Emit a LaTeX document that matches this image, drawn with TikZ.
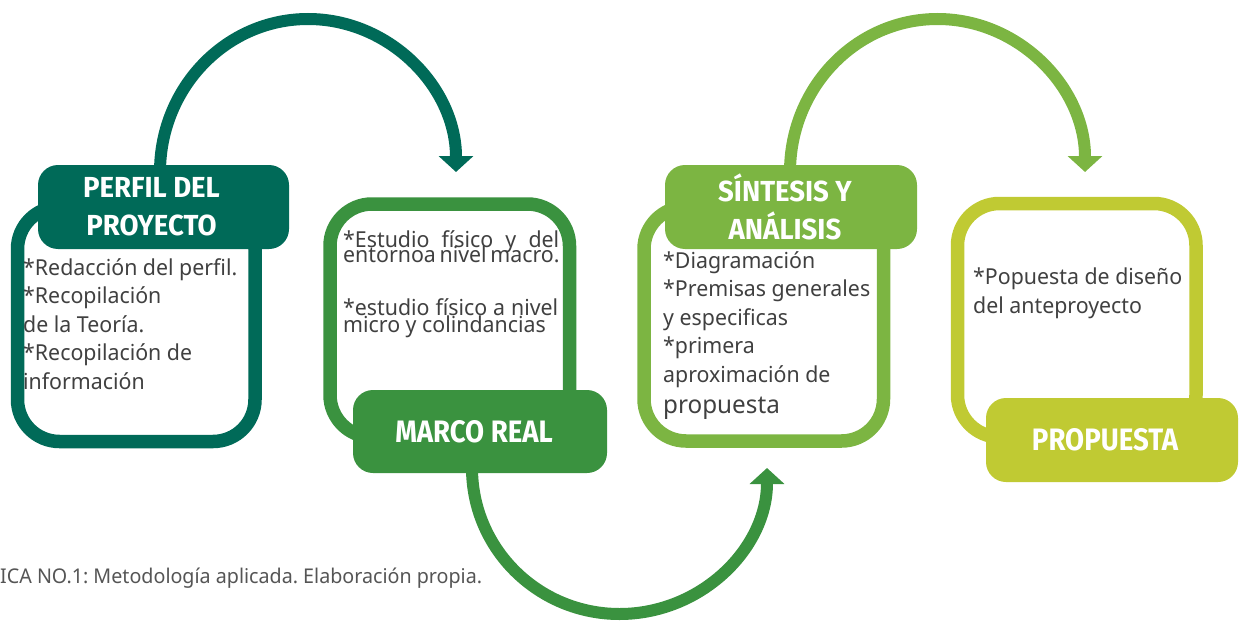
\documentclass[tikz,border=0pt]{standalone}
\usepackage{fontspec}
\setmainfont{Noto Sans}
\newfontfamily\bodyfont{Noto Sans}[FakeStretch=0.97]
\newfontfamily\headfont{Fira Sans}[FakeStretch=0.95]
\newfontfamily\footfont{Fira Sans}[FakeStretch=0.89]
\usetikzlibrary{arrows.meta}
\frenchspacing
\definecolor{cteal}{RGB}{0,106,88}
\definecolor{cgreen}{RGB}{58,146,63}
\definecolor{clight}{RGB}{124,181,66}
\definecolor{cyell}{RGB}{192,202,51}
\definecolor{ctext}{RGB}{64,64,64}
\definecolor{ccap}{RGB}{85,85,85}
\tikzset{
  outline/.style={draw=#1, line width=13.5pt, rounded corners=42pt, inner sep=0pt},
  headbox/.style={fill=#1, rounded corners=20pt, inner sep=0pt, minimum width=252pt, minimum height=84pt},
  headtext/.style={text=white, align=center, font=\headfont\bfseries\fontsize{29}{38}\selectfont},
  foottext/.style={text=white, align=center, font=\footfont\bfseries\fontsize{31}{38}\selectfont},
  bodytext/.style={text=ctext, align=left, inner sep=0pt, font=\bodyfont\fontsize{22}{28.5}\selectfont},
  flow/.style={draw=#1, line width=12pt, -{Triangle[width=34pt,length=16pt]}},
}
\begin{document}
\begin{tikzpicture}[x=1pt,y=-1pt]
\useasboundingbox (0,0) rectangle (1241,623);
% arrows
\coordinate (a1s) at (160,172);
\coordinate (a3s) at (472,468);
\coordinate (a4s) at (790,172);
\draw[flow=cteal] (a1s) arc[start angle=180, end angle=360, x radius=148, y radius=153] coordinate (a1e);
\draw[flow=cgreen] (a3s) arc[start angle=180, end angle=0, x radius=147.5, y radius=146] coordinate (a3e);
\draw[flow=clight] (a4s) arc[start angle=180, end angle=360, x radius=147.5, y radius=153] coordinate (a4e);
% outlines
\node[outline=cteal, minimum width=237.5pt, minimum height=234.5pt] (b1) at (136.25,324.25) {};
\node[outline=cgreen, minimum width=239.5pt, minimum height=233pt] (b2) at (449.75,320.5) {};
\node[outline=clight, minimum width=239.5pt, minimum height=234pt] (b3) at (763.75,324) {};
\node[outline=cyell, minimum width=238.5pt, minimum height=233.5pt] (b4) at (1076.75,320.25) {};
% headers
\node[headbox=cteal, minimum width=251pt, label={[headtext, xshift=-12pt]center:PERFIL DEL\\PROYECTO}] (h1) at (163.5,207) {};
\node[headbox=cgreen, minimum width=254pt, minimum height=83pt, label={[foottext, xshift=-6pt]center:MARCO REAL}] (h2) at (480,431.5) {};
\node[headbox=clight, label={[headtext, xshift=-6pt]center:SÍNTESIS Y\\ANÁLISIS}] (h3) at (791,207) {};
\node[headbox=cyell, label={[foottext, xshift=-7pt]center:PROPUESTA}] (h4) at (1112,440) {};
% body texts (base anchor = last line)
\node[bodytext, anchor=base west] (t1) at (23,389) {*Redacción del perfil.\\{}*Recopilación\\de la Teoría.\\{}*Recopilación de\\información};
\node[bodytext, anchor=base west] (t2) at (343,332) {\makebox[216pt][s]{*Estudio físico y del}\\[-13.5pt]\makebox[216pt][s]{entornoa nivel macro.}\\[25pt]\makebox[215pt][s]{*estudio físico a nivel}\\[-12pt]micro y colindancias};
\node[bodytext, anchor=base west] (t3) at (663,413) {*Diagramación\\{}*Premisas generales\\y especificas\\{}*primera\\aproximación de\\[2.5pt]{\fontsize{25}{28}\selectfont propuesta}};
\node[bodytext, anchor=base west] (t4) at (973,313) {*Popuesta de diseño\\del anteproyecto};
% caption
\node[anchor=base west, inner sep=0pt, text=ccap, font=\bodyfont\fontsize{20.3}{24}\selectfont] (cap) at (0,583) {ICA NO.1: Metodología aplicada. Elaboración propia.};
\end{tikzpicture}
\end{document}
